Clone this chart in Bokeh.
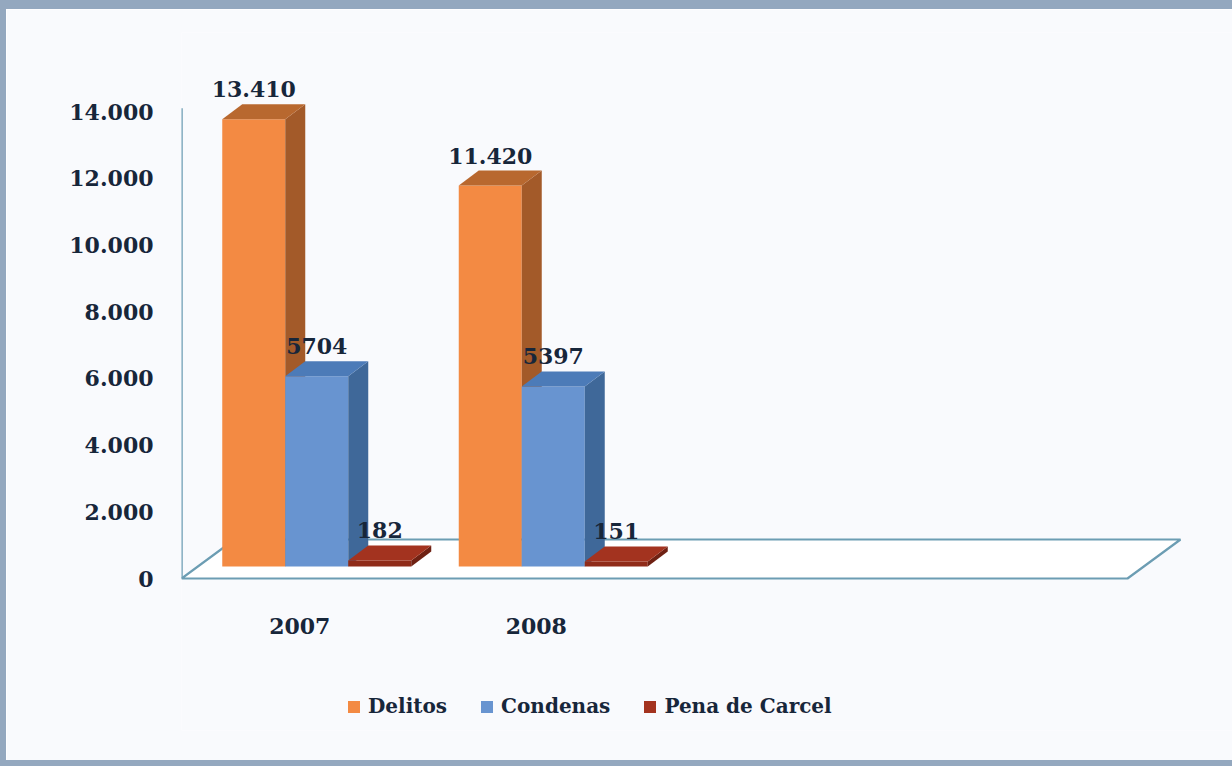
from bokeh.plotting import figure
from bokeh.models import Range1d, FixedTicker, Legend, LegendItem
from bokeh.embed import file_html
from bokeh.resources import INLINE
from bokeh.core.properties import value

# ---------------- data ----------------
years = ["2007", "2008"]
n_slots = 4  # the category axis has room for four years, two are empty
series = ["Delitos", "Condenas", "Pena de Carcel"]
delitos = [13410, 11420]
condenas = [5704, 5397]
pena = [182, 151]
delitos_labels = ["13.410", "11.420"]
condenas_labels = ["5704", "5397"]
pena_labels = ["182", "151"]
y_ticks = [0, 2000, 4000, 6000, 8000, 10000, 12000, 14000]
y_tick_labels = ["0", "2.000", "4.000", "6.000", "8.000", "10.000", "12.000", "14.000"]

# ---------------- styling / geometry constants (pixels) ----------------
BORDER = "#94a8bf"
OX, OY, OB = 6, 9, 6               # outer frame thickness (left, top, bottom)
W, H = 1232, 766                   # outer size (border-box); canvas origin at (OX, OY)
FL, FT = 181 - OX, 32 - OY         # frame left, top (canvas px)
FB = 730 - OY                      # frame bottom (canvas px)
BB = H - FB
frame_w = W - FL
frame_h = FB - FT
slot_px = 236.5                    # width of one category slot
zero_px = FB - (578 - OY)          # y=0 above frame bottom
top_px = FB - (111 - OY)           # y=14000 above frame bottom
sy = (top_px - zero_px) / 14000.0
y0 = -zero_px / sy
y1 = y0 + frame_h / sy
x0 = -0.5
x1 = x0 + frame_w / slot_px


def dx(px):
    return px / slot_px


def dy(px):
    return px / sy


FLOOR_DX, FLOOR_DY = 53, 39
PLANE_DX, PLANE_DY = 17, 12
DEPTH_DX, DEPTH_DY = 20, 15
BAR_PX = 63
XLABEL_TOP = 617 - OY              # canvas px of the year labels' box top
LEGEND_CY = 705 - OY

BG = "#f9fafd"
LINE = "#6c9db3"
TEXT = "#17263a"
FONT = "DejaVu Serif"
FS = "22px"

faces = [
    dict(front="#f38a43", side="#a35a29", top="#b8682f"),
    dict(front="#6894d0", side="#3f6899", top="#4c7bb8"),
    dict(front="#8f2b19", side="#6f2113", top="#a3331f"),
]

p = figure(width=W, height=H, output_backend="svg", toolbar_location=None,
           x_range=Range1d(x0, x1), y_range=Range1d(y0, y1),
           min_border_left=FL, min_border_top=FT, min_border_right=0,
           min_border_bottom=BB)
p.styles = {"border-top": f"{OY}px solid {BORDER}",
            "border-left": f"{OX}px solid {BORDER}",
            "border-bottom": f"{OB}px solid {BORDER}"}
p.background_fill_color = BG
p.border_fill_color = BG
p.outline_line_color = None
p.xgrid.visible = False
p.ygrid.visible = False

# floor
fx0, fx1 = -0.5, n_slots - 0.5
p.patch([fx0, fx1, fx1 + dx(FLOOR_DX), fx0 + dx(FLOOR_DX)],
        [0, 0, dy(FLOOR_DY), dy(FLOOR_DY)],
        fill_color="white", line_color=LINE, line_width=2.2)
# wall edge line
p.segment(x0=[fx0], y0=[0], x1=[fx0], y1=[14100], line_color=LINE, line_width=2.5)

all_vals = [delitos, condenas, pena]
all_labels = [delitos_labels, condenas_labels, pena_labels]
bw = dx(BAR_PX)
base = dy(PLANE_DY)
ddx, ddy = dx(DEPTH_DX), dy(DEPTH_DY)
legend_items = []
for j, (vals, labs) in enumerate(zip(all_vals, all_labels)):
    lefts = [i - 1.5 * bw + j * bw + dx(PLANE_DX) for i in range(len(years))]
    rights = [l + bw for l in lefts]
    tops = [base + v for v in vals]
    front = p.quad(left=lefts, right=rights, bottom=[base] * len(vals), top=tops,
                   fill_color=faces[j]["front"], line_color=None)
    side_xs = [[r, r + ddx, r + ddx, r] for r in rights]
    side_ys = [[base, base + ddy, t + ddy, t] for t in tops]
    p.patches(side_xs, side_ys, fill_color=faces[j]["side"], line_color=None)
    top_xs = [[l, r, r + ddx, l + ddx] for l, r in zip(lefts, rights)]
    top_ys = [[t, t, t + ddy, t + ddy] for t in tops]
    topr = p.patches(top_xs, top_ys, fill_color=faces[j]["top"], line_color=None)
    p.text(x=[(l + r) / 2 for l, r in zip(lefts, rights)],
           y=[t + ddy + dy(7) for t in tops], text=labs,
           text_align="center", text_baseline="bottom",
           text_font=value(FONT), text_font_size=FS, text_font_style="bold",
           text_color=TEXT)
    legend_items.append(LegendItem(label=series[j], renderers=[front if j < 2 else topr]))

# axes
p.yaxis.ticker = FixedTicker(ticks=y_ticks)
p.yaxis.major_label_overrides = {t: l for t, l in zip(y_ticks, y_tick_labels)}
p.yaxis.axis_line_color = None
p.yaxis.major_tick_line_color = None
p.yaxis.minor_tick_line_color = None
p.yaxis.major_tick_out = 0
p.yaxis.major_label_standoff = 28
p.yaxis.major_label_text_font = FONT
p.yaxis.major_label_text_font_size = FS
p.yaxis.major_label_text_font_style = "bold"
p.yaxis.major_label_text_color = TEXT

p.xaxis.ticker = FixedTicker(ticks=list(range(len(years))))
p.xaxis.major_label_overrides = {i: y for i, y in enumerate(years)}
p.xaxis.fixed_location = y0 + (FB - XLABEL_TOP) / sy
p.xaxis.axis_line_color = None
p.xaxis.major_tick_line_color = None
p.xaxis.minor_tick_line_color = None
p.xaxis.major_tick_out = 0
p.xaxis.major_tick_in = 0
p.xaxis.major_label_standoff = 0
p.xaxis.major_label_text_font = FONT
p.xaxis.major_label_text_font_size = FS
p.xaxis.major_label_text_font_style = "bold"
p.xaxis.major_label_text_color = TEXT

legend = Legend(items=legend_items, orientation="horizontal",
                location=(346 - 181, FB - LEGEND_CY - 13),
                glyph_width=15, glyph_height=15, label_standoff=7, spacing=32,
                padding=0, margin=0, border_line_color=None, background_fill_alpha=0,
                label_text_font=FONT, label_text_font_size="20px",
                label_text_font_style="bold", label_text_color=TEXT)
p.add_layout(legend, "center")

open("out.html", "w").write(file_html(p, INLINE))
